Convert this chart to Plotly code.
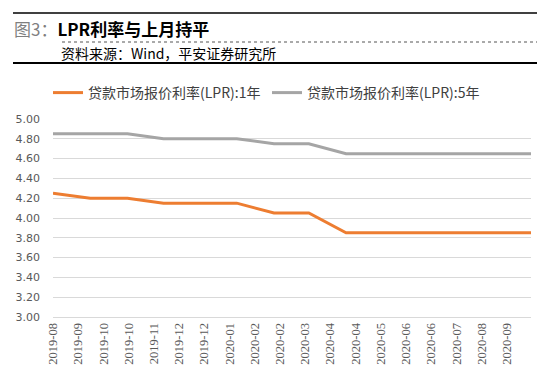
import plotly.graph_objects as go
import pandas as pd

# ---- data ----
dates = ["2019-08-20", "2019-09-20", "2019-10-21", "2019-11-20", "2019-12-20",
         "2020-01-20", "2020-02-20", "2020-03-20", "2020-04-20", "2020-05-20",
         "2020-06-22", "2020-07-20", "2020-08-20", "2020-09-21"]
lpr_1y = [4.25, 4.20, 4.20, 4.15, 4.15, 4.15, 4.05, 4.05, 3.85, 3.85, 3.85, 3.85, 3.85, 3.85]
lpr_5y = [4.85, 4.85, 4.85, 4.80, 4.80, 4.80, 4.75, 4.75, 4.65, 4.65, 4.65, 4.65, 4.65, 4.65]
tick_labels = ["2019-08", "2019-09", "2019-10", "2019-10", "2019-11", "2019-12", "2019-12",
               "2020-01", "2020-02", "2020-02", "2020-03", "2020-04", "2020-04", "2020-05",
               "2020-06", "2020-06", "2020-07", "2020-08", "2020-09"]
name_1y = "贷款市场报价利率(LPR):1年"
name_5y = "贷款市场报价利率(LPR):5年"
y_ticks = [3.0, 3.2, 3.4, 3.6, 3.8, 4.0, 4.2, 4.4, 4.6, 4.8, 5.0]

tick_vals = pd.date_range(dates[0], periods=len(tick_labels), freq="21D")

W, H = 550, 382
L, R, T, B = 53, 19, 119, 65
PW, PH = W - L - R, H - T - B


def px_x(x):
    return (x - L) / PW


def px_y(y):
    return 1 + (T - y) / PH


fig = go.Figure()
fig.add_trace(go.Scatter(x=dates, y=lpr_1y, mode="lines", name=name_1y,
                         line=dict(color="#ED7D31", width=3)))
fig.add_trace(go.Scatter(x=dates, y=lpr_5y, mode="lines", name=name_5y,
                         line=dict(color="#A5A5A5", width=3)))

cjk = "Noto Sans CJK SC, sans-serif"

fig.update_layout(
    width=W, height=H,
    margin=dict(l=L, r=R, t=T, b=B),
    paper_bgcolor="white", plot_bgcolor="white",
    showlegend=True,
    legend=dict(orientation="h", x=px_x(48), xanchor="left", y=px_y(93), yanchor="middle",
                font=dict(family=cjk, size=14, color="#404040"),
                entrywidth=174, entrywidthmode="pixels", itemwidth=30),
    xaxis=dict(type="date", range=[dates[0], dates[-1]], automargin=False,
               tickmode="array", tickvals=tick_vals, ticktext=tick_labels,
               tickangle=-90,
               tickfont=dict(family="Liberation Serif, Times New Roman, serif", size=12.5, color="#595959"),
               showgrid=False, showline=True, linecolor="#D9D9D9", linewidth=1, ticks=""),
    yaxis=dict(range=[3.0, 5.0], tickmode="array", tickvals=y_ticks, automargin=False,
               ticktext=[f"{v:.2f}" for v in y_ticks],
               tickfont=dict(family="DejaVu Sans, Verdana, sans-serif", size=11, color="#595959"),
               showgrid=True, gridcolor="#D9D9D9", gridwidth=1, zeroline=False,
               showline=False, ticks="", ticklabelstandoff=12),
)

# header decorations
fig.add_shape(type="line", xref="paper", yref="paper", x0=px_x(13), x1=px_x(537),
              y0=px_y(13), y1=px_y(13), line=dict(color="#000000", width=1.5))
fig.add_shape(type="line", xref="paper", yref="paper", x0=px_x(62), x1=px_x(537),
              y0=px_y(42), y1=px_y(42), line=dict(color="#555555", width=1, dash="dot"))
fig.add_shape(type="line", xref="paper", yref="paper", x0=px_x(13), x1=px_x(537),
              y0=px_y(63), y1=px_y(63), line=dict(color="#000000", width=2))

fig.add_annotation(xref="paper", yref="paper", x=px_x(12), y=px_y(28),
                   xanchor="left", yanchor="middle", showarrow=False,
                   text="<span style='color:#7F7F7F'>图3：</span><b>LPR利率与上月持平</b>",
                   font=dict(family=cjk, size=17, color="#000000"))
fig.add_annotation(xref="paper", yref="paper", x=px_x(59), y=px_y(53),
                   xanchor="left", yanchor="middle", showarrow=False,
                   text="资料来源：Wind，平安证券研究所",
                   font=dict(family=cjk, size=14, color="#000000"))

fig.write_html("out.html", config={"displayModeBar": False},
               post_script="document.body.style.margin='0';")
